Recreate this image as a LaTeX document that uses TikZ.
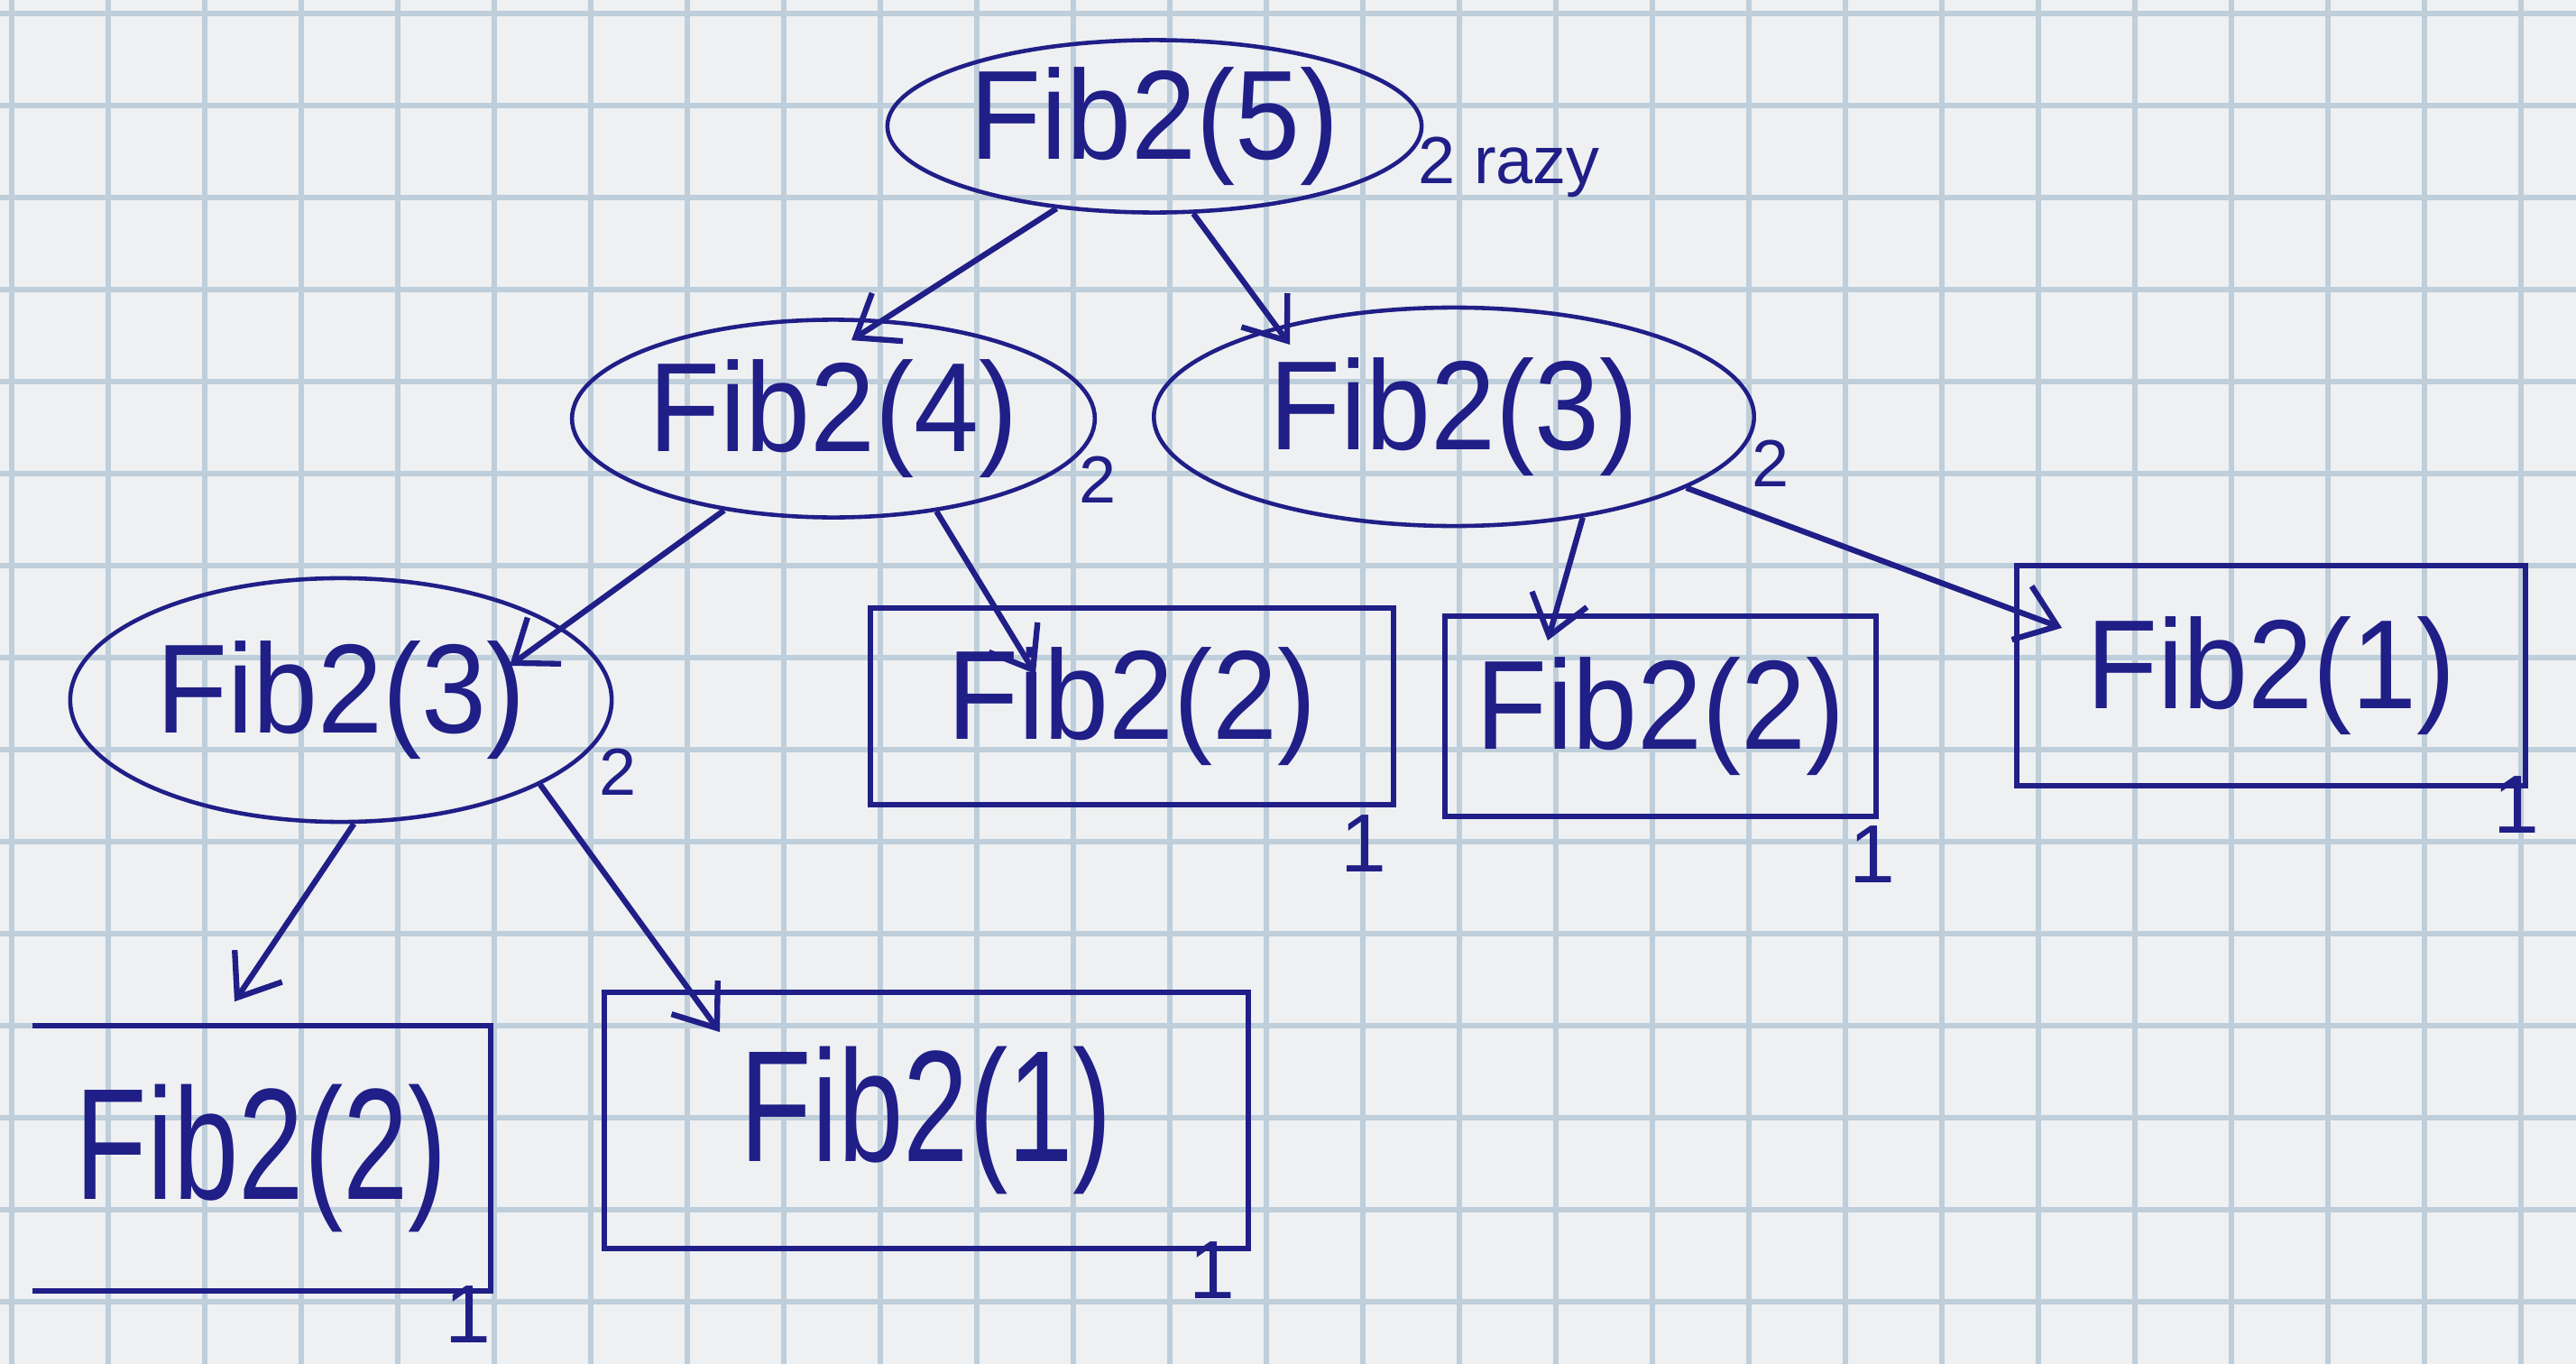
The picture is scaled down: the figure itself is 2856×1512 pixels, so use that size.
\documentclass[tikz,border=0pt]{standalone}
\usepackage{fontspec}
\usepackage{graphicx}
\setmainfont{Liberation Sans}
\usetikzlibrary{shapes.geometric,arrows.meta,calc}
\definecolor{ink}{RGB}{32,30,135}
\definecolor{paper}{RGB}{238,240,242}
\definecolor{gridc}{RGB}{190,206,218}
\newcommand{\fibtxt}[1]{\scalebox{0.92}[1]{\fontsize{40}{44}\selectfont #1}}
\newcommand{\fibbig}[1]{\scalebox{0.74}[1]{\fontsize{50}{55}\selectfont #1}}
\begin{document}
\begin{tikzpicture}[x=0.01cm,y=-0.01cm,
  callnode/.style={ellipse,draw=ink,line width=1.3pt,text=ink,inner sep=0pt},
  leafnode/.style={rectangle,draw=ink,line width=1.7pt,text=ink,inner sep=0pt},
  callarrow/.style={draw=ink,line width=1.8pt,-{Straight Barb[length=12pt,width=18pt]}},
  countlabel/.style={text=ink,inner sep=0pt,font=\fontsize{21}{23}\selectfont},
  leaflabel/.style={text=ink,inner sep=0pt,font=\fontsize{26}{28}\selectfont}]
\useasboundingbox (0,0) rectangle (2856,1512);
\fill[paper] (0,0) rectangle (2856,1512);
\foreach \i in {0,...,26} \draw[gridc,line width=1.8pt] ({13+107*\i},0) -- ({13+107*\i},1512);
\foreach \j in {0,...,14} \draw[gridc,line width=1.8pt] (0,{15+102*\j}) -- (2856,{15+102*\j});

\node[callnode,minimum width=5.92cm,minimum height=1.91cm] (f5) at (1280,140) {\fibtxt{Fib2(5)}};
\node[callnode,minimum width=5.74cm,minimum height=2.19cm] (f4) at (924,464) {\fibtxt{Fib2(4)}};
\node[callnode,minimum width=6.65cm,minimum height=2.42cm] (f3) at (1612,462) {\fibtxt{Fib2(3)}};
\node[callnode,minimum width=6.00cm,minimum height=2.70cm] (f3L) at (378,776) {\fibtxt{Fib2(3)}};

\node[leafnode,minimum width=5.80cm,minimum height=2.18cm] (b1) at (1255,783) {\fibtxt{Fib2(2)}};
\node[leafnode,minimum width=4.77cm,minimum height=2.22cm] (b2) at (1841,794) {\fibtxt{Fib2(2)}};
\node[leafnode,minimum width=5.63cm,minimum height=2.43cm] (b3) at (2518,749) {\fibtxt{Fib2(1)}};
\node[text=ink,inner sep=0pt,minimum width=5.07cm,minimum height=2.92cm] (b4) at (290,1284) {\fibbig{Fib2(2)}};
\draw[ink,line width=1.7pt] (b4.north west) -- (b4.north east) -- (b4.south east) -- (b4.south west);
\node[leafnode,minimum width=7.14cm,minimum height=2.84cm] (b5) at (1027,1242) {\fibbig{Fib2(1)}\hspace{1.68cm}};

\node[countlabel,anchor=west] (r5) at (1572,185) {2 razy};
\node[countlabel] (c4) at (1217,532) {2};
\node[countlabel] (c3) at (1963,514) {2};
\node[countlabel] (c3L) at (685,856) {2};
\node[leaflabel] (l1) at (1512,935) {1};
\node[leaflabel] (l2) at (2076,947) {1};
\node[leaflabel] (l3) at (2790,892) {1};
\node[leaflabel] (l4) at (519,1457) {1};
\node[leaflabel] (l5) at (1344,1408) {1};

\draw[callarrow] (f5.220) -- ($(f4.north)+(20,25)$);
\draw[callarrow] (f5.294) -- ($(f3)+(-182,-80)$);
\draw[callarrow] (f4.220) -- ($(f3L)+(187,-38)$);
\draw[callarrow] (f4.318) -- ($(b1)+(-107,-36)$);
\draw[callarrow] (f3.322) -- ($(b2)+(-125,-84)$);
\draw[callarrow] (f3.343) -- ($(b3)+(-232,-53)$);
\draw[callarrow] (f3L.276) -- ($(b4.north)+(-30,-27)$);
\draw[callarrow] (f3L.337) -- ($(b5)+(-229,-98)$);
\end{tikzpicture}
\end{document}
